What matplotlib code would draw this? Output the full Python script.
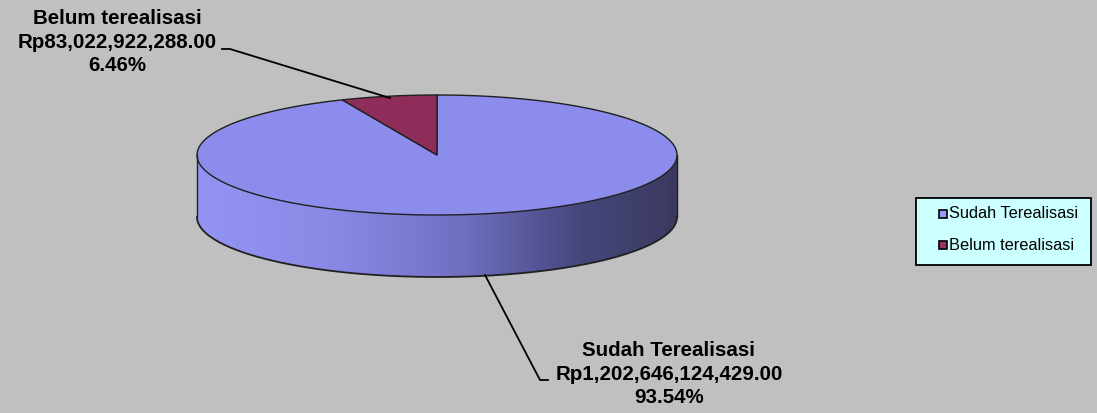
import numpy as np
import matplotlib
matplotlib.use("Agg")
import matplotlib.pyplot as plt
from matplotlib.patches import Polygon, Rectangle
from matplotlib.colors import LinearSegmentedColormap

plt.rcParams["font.family"] = ["Liberation Sans", "DejaVu Sans"]

# data
categories = ["Sudah Terealisasi", "Belum terealisasi"]
amounts = [1202646124429.00, 83022922288.00]
top_colors = ["#8C8CEC", "#8E2C5A"]
legend_colors = ["#9999FF", "#993366"]

W, H = 1097, 413
fig = plt.figure(figsize=(W / 100, H / 100), dpi=100)
fig.patch.set_facecolor("#C0C0C0")
ax = fig.add_axes([0, 0, 1, 1])
ax.set_axis_off()

# pie geometry (pixels, y down)
cx, cy = 437, 155
rx, ry = 240, 60
depth = 62

total = sum(amounts)
fracs = [a / total for a in amounts]


def ell(t, dy=0.0):
    # t: screen angle, 0 = right, -pi/2 = top (y down)
    return cx + rx * np.cos(t), cy + ry * np.sin(t) + dy


# side (front half), gradient fill
t = np.linspace(0, np.pi, 200)
xt, yt = ell(t)
xb, yb = ell(t[::-1], depth)
side = Polygon(np.column_stack([np.r_[xt, xb], np.r_[yt, yb]]),
               closed=True, facecolor="none", edgecolor="none")
ax.add_patch(side)
cmap = LinearSegmentedColormap.from_list(
    "side", [(0, "#9494F4"), (0.3, "#8888E4"), (0.55, "#7070C2"),
             (0.8, "#46467C"), (1, "#3A3A60")])
grad = np.linspace(0, 1, 256)[None, :]
im = ax.imshow(grad, cmap=cmap, extent=(cx - rx, cx + rx, cy + depth + ry, cy),
               aspect="auto", zorder=1)
im.set_clip_path(side)
ax.set_xlim(0, W)
ax.set_ylim(H, 0)

# side outlines
ax.plot(xb, yb, color="#202020", lw=1.3, zorder=3)
ax.plot([cx - rx, cx - rx], [cy, cy + depth], color="#202020", lw=1, zorder=3)
ax.plot([cx + rx, cx + rx], [cy, cy + depth], color="#202020", lw=1, zorder=3)

# top faces: Excel starts at 12 o'clock and goes clockwise
start = -np.pi / 2
for frac, col in zip(fracs, top_colors):
    end = start + frac * 2 * np.pi
    tt = np.linspace(start, end, max(int(frac * 400), 10))
    x, y = ell(tt)
    poly = Polygon(np.column_stack([np.r_[cx, x], np.r_[cy, y]]), closed=True,
                   facecolor=col, edgecolor="#202020", lw=1, zorder=2)
    ax.add_patch(poly)
    start = end

# data labels with leader lines
labels = [f"{c}\nRp{a:,.2f}\n{f * 100:.2f}%" for c, a, f in zip(categories, amounts, fracs)]
ax.text(669, 374, labels[0], ha="center", va="center", fontsize=14.8,
        fontweight="bold", linespacing=1.3, zorder=5)
ax.plot([485, 540, 548], [275, 380, 380], color="black", lw=1.3, zorder=4)

ax.text(117, 42, labels[1], ha="center", va="center", fontsize=14.8,
        fontweight="bold", linespacing=1.3, zorder=5)
ax.plot([222, 230, 390], [49, 49, 98], color="black", lw=1.3, zorder=4)

# legend
lx0, ly0, lw_, lh = 916, 198, 175, 67
ax.add_patch(Rectangle((lx0, ly0), lw_, lh, facecolor="#CCFFFF",
                       edgecolor="black", lw=1.3, zorder=5))
for i, (c, col) in enumerate(zip(categories, legend_colors)):
    yy = ly0 + 16 + i * 31
    ax.add_patch(Rectangle((lx0 + 23, yy - 4), 8, 8, facecolor=col,
                           edgecolor="black", lw=1.2, zorder=6))
    ax.text(lx0 + 33, yy, c, ha="left", va="center", fontsize=11.8, zorder=6)

fig.savefig("out.png", dpi=100, facecolor=fig.get_facecolor())
